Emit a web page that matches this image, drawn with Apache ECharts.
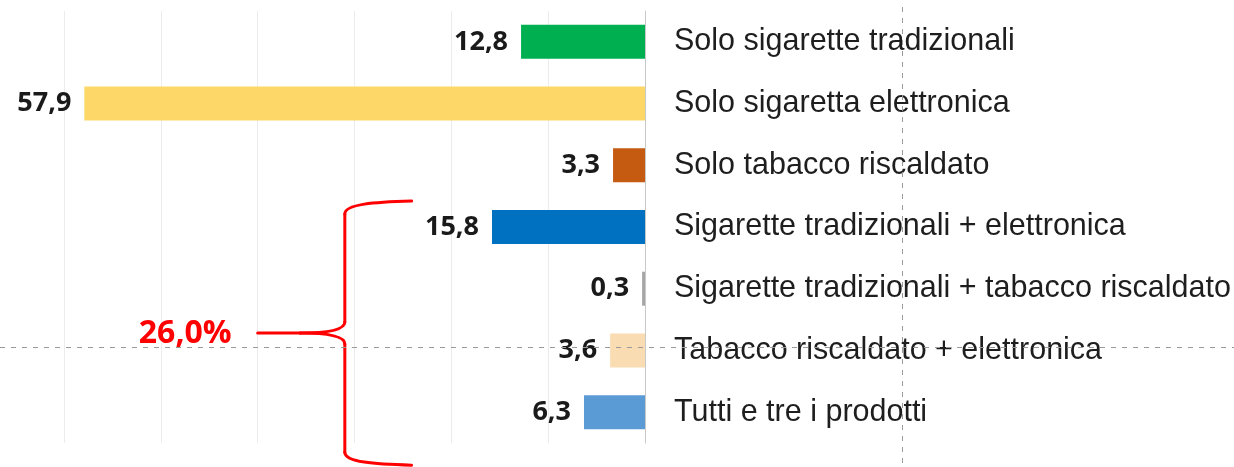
<!DOCTYPE html>
<html>
<head>
<meta charset="utf-8">
<script src="https://cdn.jsdelivr.net/npm/echarts@6/dist/echarts.min.js"></script>
<style>
  html, body { margin: 0; padding: 0; background: #ffffff; }
  #chart { width: 1234px; height: 467px; }
</style>
</head>
<body>
<div id="chart"></div>
<script>
// Categories of product use, top to bottom
const categories = [
  'Solo sigarette tradizionali',
  'Solo sigaretta elettronica',
  'Solo tabacco riscaldato',
  'Sigarette tradizionali + elettronica',
  'Sigarette tradizionali + tabacco riscaldato',
  'Tabacco riscaldato + elettronica',
  'Tutti e tre i prodotti'
];
// Percentages
const values = [12.8, 57.9, 3.3, 15.8, 0.3, 3.6, 6.3];
// One colour per bar
const barColors = ['#00b050', '#fdd868', '#c55a11', '#0070c0', '#a6a6a6', '#f9dcb2', '#5b9bd5'];
// Value axis range
const axisMin = 0;
const axisMax = 60;
const axisStep = 10;
// Categories gathered by the brace (multi-product users)
const groupedIdx = [3, 4, 5, 6];

const fmt = v => v.toFixed(1).replace('.', ',');

const chart = echarts.init(document.getElementById('chart'), null, { renderer: 'canvas' });

chart.setOption({
  animation: false,
  backgroundColor: '#ffffff',
  grid: { left: 64, right: 589, top: 11, bottom: 24, containLabel: false },
  xAxis: {
    type: 'value',
    inverse: true,
    min: axisMin,
    max: axisMax,
    interval: axisStep,
    axisLabel: { show: false },
    axisTick: { show: false },
    axisLine: { show: false },
    splitLine: { show: true, lineStyle: { color: '#ececec', width: 1 } }
  },
  yAxis: {
    type: 'category',
    inverse: true,
    position: 'right',
    data: categories,
    axisTick: { show: false },
    axisLine: { show: true, lineStyle: { color: '#c8c8c8', width: 1 } },
    axisLabel: {
      margin: 29,
      color: '#1e1e1e',
      fontFamily: 'Liberation Sans',
      fontSize: 30.5
    }
  },
  series: [{
    type: 'bar',
    barWidth: 34,
    data: values.map((v, i) => ({ value: v, itemStyle: { color: barColors[i] } })),
    label: {
      show: true,
      position: 'left',
      distance: 13,
      color: '#1a1a1a',
      fontFamily: 'Open Sans',
      fontWeight: 'bold',
      fontSize: 27,
      formatter: p => fmt(p.value)
    }
  }]
});

// Curly brace with the total of the grouped categories
const groupTotal = groupedIdx.reduce((s, i) => s + values[i], 0);
const px = (v, c) => chart.convertToPixel({ gridIndex: 0 }, [v, c]);
const firstY = px(0, groupedIdx[0])[1];
const lastY = px(0, groupedIdx[groupedIdx.length - 1])[1];
const braceX = px(31, 0)[0];
const armX = px(24.1, 0)[0];
const tipX = px(35.6, 0)[0];
const stemX = px(40, 0)[0];
const braceTop = firstY - 26;
const braceBottom = lastY + 53;
const braceMid = (braceTop + braceBottom) / 2;

const braceStyle = { stroke: '#ff0000', lineWidth: 3, fill: null, lineCap: 'round' };
const curve = (x1, y1, cx1, cy1, cx2, cy2, x2, y2) => ({
  type: 'bezierCurve',
  shape: { x1, y1, cpx1: cx1, cpy1: cy1, cpx2: cx2, cpy2: cy2, x2, y2 },
  style: braceStyle,
  z: 10
});
const seg = (x1, y1, x2, y2) => ({
  type: 'line',
  shape: { x1, y1, x2, y2 },
  style: braceStyle,
  z: 10
});

chart.setOption({
  graphic: [
    // upper arm and corner
    curve(armX, braceTop, armX - 37, braceTop + 1, braceX, braceTop + 3, braceX, braceTop + 13),
    seg(braceX, braceTop + 13, braceX, braceMid - 11),
    // middle point
    curve(braceX, braceMid - 11, braceX, braceMid - 3, braceX - 18, braceMid, tipX, braceMid),
    curve(tipX, braceMid, braceX - 18, braceMid, braceX, braceMid + 3, braceX, braceMid + 11),
    seg(braceX, braceMid + 11, braceX, braceBottom - 13),
    // lower corner and arm
    curve(braceX, braceBottom - 13, braceX, braceBottom - 3, armX - 37, braceBottom - 1, armX, braceBottom),
    // stem toward the total
    seg(stemX, braceMid, tipX, braceMid),
    {
      type: 'text',
      x: stemX - 26,
      y: braceMid + 1,
      style: {
        text: fmt(groupTotal) + '%',
        fill: '#ff0000',
        font: 'bold 32px "Open Sans"',
        align: 'right',
        verticalAlign: 'middle'
      },
      z: 10
    },
    // dashed guide lines
    {
      type: 'line',
      shape: { x1: 0, y1: 347.5, x2: 1234, y2: 347.5 },
      style: { stroke: '#9a9a9a', lineWidth: 1, lineDash: [5, 6] },
      z: 20
    },
    {
      type: 'line',
      shape: { x1: 902.5, y1: 7, x2: 902.5, y2: 467 },
      style: { stroke: '#9a9a9a', lineWidth: 1, lineDash: [5, 6] },
      z: 20
    }
  ]
});
</script>
</body>
</html>
